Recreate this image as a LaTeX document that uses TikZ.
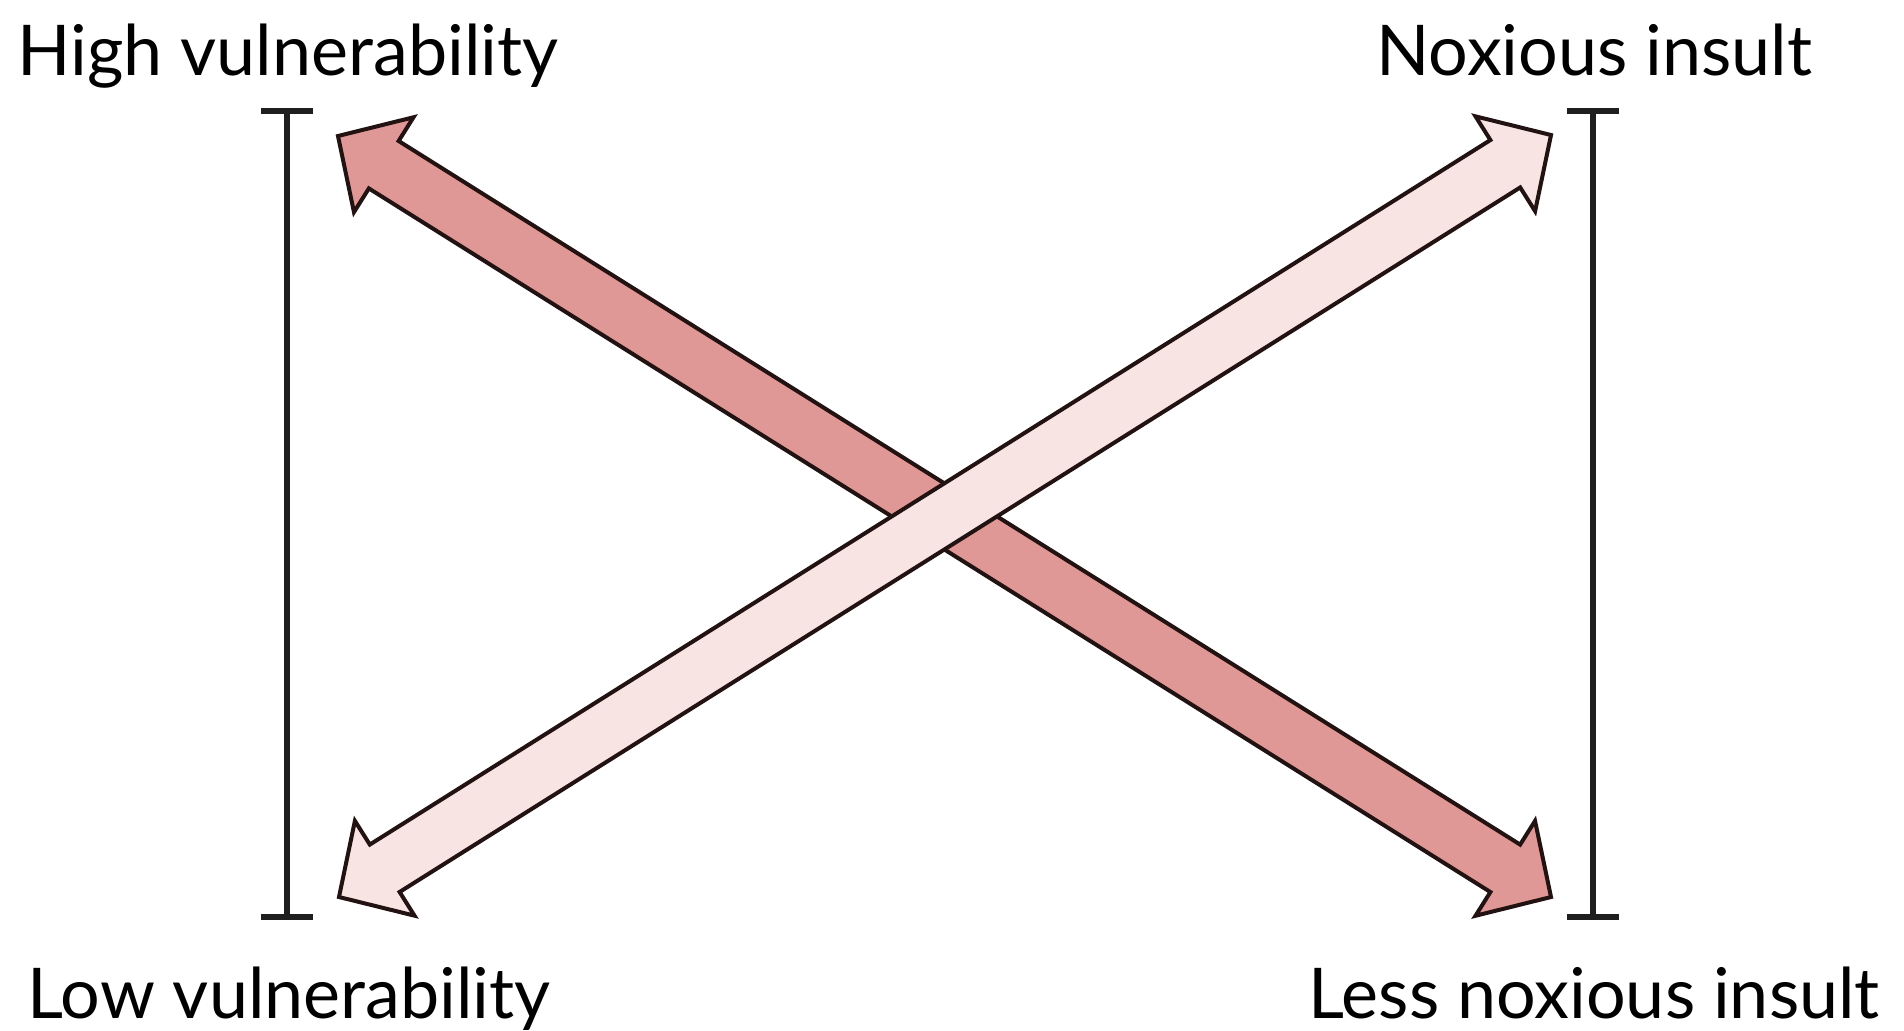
\documentclass[tikz,border=0pt]{standalone}
\usepackage{fontspec}
\setmainfont{Lato}
\usetikzlibrary{calc,arrows.meta}
\definecolor{insultdark}{RGB}{224,152,150}
\definecolor{insultlight}{RGB}{248,229,227}
\definecolor{rimcol}{RGB}{35,18,18}
\tikzset{
  fatarrow/.style={draw=rimcol, line width=2pt, line join=miter},
  rangebar/.style={draw=black!88, line width=3.2pt, {Bar[width=26pt]}-{Bar[width=26pt]}},
  lbl/.style={anchor=base west, inner sep=0pt, font=\fontsize{35}{42}\selectfont}
}
% double headed block arrow: #1 one tip, #2 other tip, #3 fill
\newcommand{\fatarrow}[3]{%
  \coordinate (#1h) at ($(#1)!27pt!(#2)$);
  \coordinate (#2h) at ($(#2)!27pt!(#1)$);
  \filldraw[fatarrow, fill=#3] (#1)
    -- ($(#1h)!28pt!90:(#2)$) -- ($(#1h)!14pt!90:(#2)$)
    -- ($(#2h)!14pt!90:(#2)$) -- ($(#2h)!28pt!90:(#2)$)
    -- (#2)
    -- ($(#2h)!28pt!-90:(#2)$) -- ($(#2h)!14pt!-90:(#2)$)
    -- ($(#1h)!14pt!-90:(#2)$) -- ($(#1h)!28pt!-90:(#2)$) -- cycle;
}
\begin{document}
\begin{tikzpicture}[x=0.5pt, y=-0.5pt]
\useasboundingbox (0,0) rectangle (1904,1030);
% labels
\node[lbl] (hv) at (17,75) {High vulnerability};
\node[lbl] (ni) at (1376,75) {Noxious insult};
\node[lbl] (lv) at (27,1018) {Low vulnerability};
\node[lbl] (lni) at (1308,1018) {Less noxious insult};
% range bars
\coordinate (ltop) at (287,108);
\coordinate (lbot) at (287,920);
\coordinate (rtop) at (1593,108);
\coordinate (rbot) at (1593,920);
\draw[rangebar] (ltop) -- (lbot);
\draw[rangebar] (rtop) -- (rbot);
% arrow tips
\coordinate (dkA) at (338,136);
\coordinate (dkB) at (1551,897);
\coordinate (ltA) at (339,897);
\coordinate (ltB) at (1551,135);
\fatarrow{dkA}{dkB}{insultdark}
\fatarrow{ltA}{ltB}{insultlight}
\end{tikzpicture}
\end{document}
